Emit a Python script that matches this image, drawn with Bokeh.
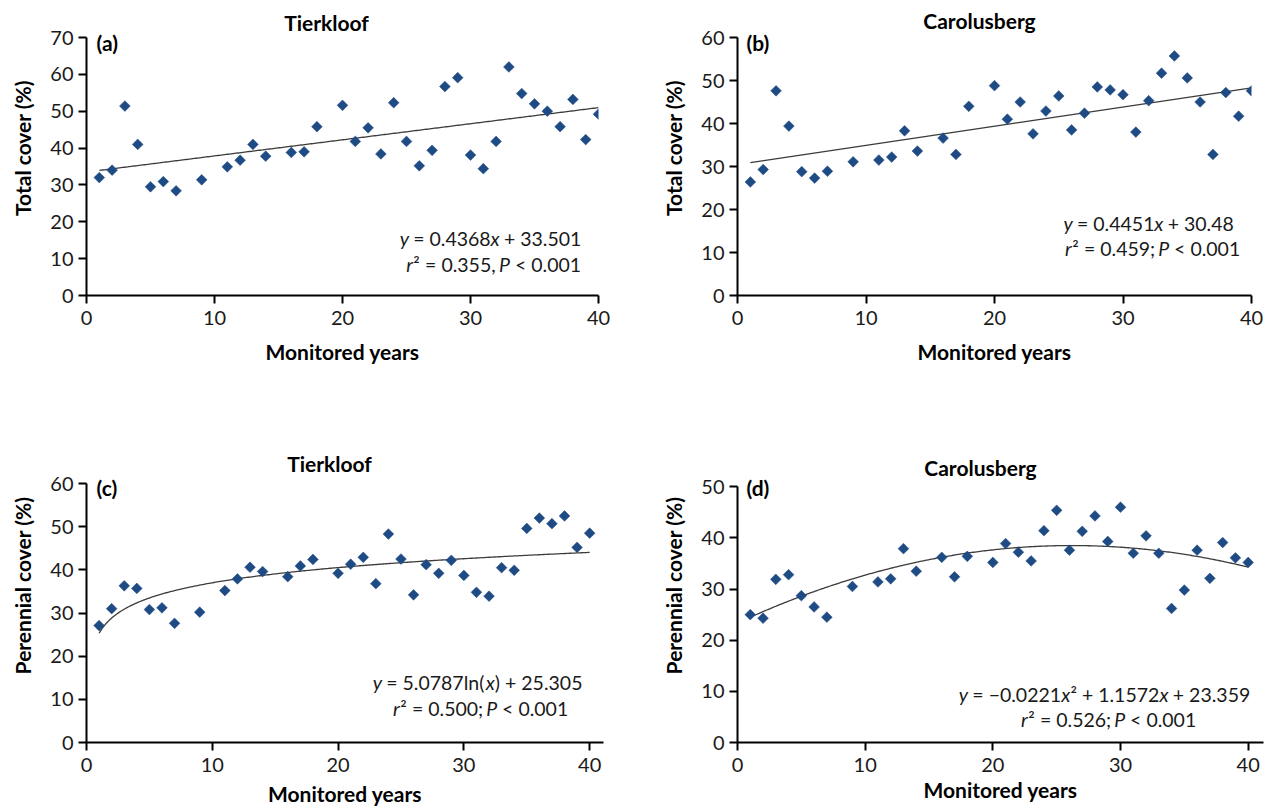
import numpy as np
from bokeh.plotting import figure
from bokeh.layouts import column, row
from bokeh.models import Label, FixedTicker, Range1d
from bokeh.embed import file_html
from bokeh.resources import INLINE

# ---------------- data ----------------
years = [1, 2, 3, 4, 5, 6, 7, 9, 11, 12, 13, 14, 16, 17, 18,
         20, 21, 22, 23, 24, 25, 26, 27, 28, 29, 30, 31, 32, 33, 34, 35, 36, 37, 38, 39, 40]

tierkloof_total = [32.0, 34.0, 51.4, 41.0, 29.5, 30.9, 28.4, 31.4, 34.9, 36.7, 41.0, 37.8,
                   38.8, 39.0, 45.8, 51.6, 41.8, 45.5, 38.4, 52.3, 41.8, 35.2, 39.4, 56.7,
                   59.1, 38.1, 34.4, 41.8, 62.0, 54.8, 52.0, 50.0, 45.8, 53.2, 42.3, 49.2]
carolusberg_total = [26.4, 29.3, 47.6, 39.4, 28.8, 27.3, 28.9, 31.1, 31.5, 32.2, 38.3, 33.6,
                     36.6, 32.8, 44.0, 48.8, 41.0, 45.0, 37.6, 42.9, 46.4, 38.5, 42.4, 48.5,
                     47.8, 46.7, 38.0, 45.3, 51.7, 55.7, 50.6, 45.0, 32.8, 47.2, 41.7, 47.6]
tierkloof_perennial = [27.1, 31.0, 36.3, 35.7, 30.8, 31.2, 27.6, 30.2, 35.2, 37.9, 40.6, 39.6,
                       38.4, 40.9, 42.4, 39.2, 41.3, 42.9, 36.8, 48.3, 42.5, 34.2, 41.2, 39.2,
                       42.2, 38.7, 34.8, 33.9, 40.5, 39.9, 49.6, 52.0, 50.7, 52.5, 45.2, 48.5]
carolusberg_perennial = [25.0, 24.3, 31.9, 32.8, 28.7, 26.5, 24.5, 30.5, 31.4, 32.0, 37.9, 33.5,
                         36.2, 32.4, 36.4, 35.2, 38.9, 37.2, 35.5, 41.4, 45.4, 37.6, 41.3, 44.3,
                         39.3, 46.0, 37.0, 40.4, 37.0, 26.2, 29.8, 37.6, 32.1, 39.1, 36.1, 35.2]

# fitted trend equations as printed on the chart
tk_total_fit = [0.4368, 33.501]            # linear
cb_total_fit = [0.4451, 30.48]             # linear
tk_per_fit = [5.0787, 25.305]              # logarithmic
cb_per_fit = [-0.0221, 1.1572, 23.359]     # quadratic

x_ticks = [0, 10, 20, 30, 40]
total_ticks_a = [0, 10, 20, 30, 40, 50, 60, 70]
total_ticks_b = [0, 10, 20, 30, 40, 50, 60]
per_ticks_c = [0, 10, 20, 30, 40, 50, 60]
per_ticks_d = [0, 10, 20, 30, 40, 50]

titles = ["Tierkloof", "Carolusberg", "Tierkloof", "Carolusberg"]
panel_tags = ["(a)", "(b)", "(c)", "(d)"]
y_labels = ["Total cover (%)", "Total cover (%)", "Perennial cover (%)", "Perennial cover (%)"]
x_label = "Monitored years"

eq_lines = [
    [[("y", "italic"), (" = 0.4368", "normal"), ("x", "italic"), (" + 33.501", "normal")],
     [("r", "italic"), ("\u00b2", "normal"), (" = 0.355,", "normal"), (" P", "italic"), (" < 0.001", "normal")]],
    [[("y", "italic"), (" = 0.4451", "normal"), ("x", "italic"), (" + 30.48", "normal")],
     [("r", "italic"), ("\u00b2", "normal"), (" = 0.459;", "normal"), (" P", "italic"), (" < 0.001", "normal")]],
    [[("y", "italic"), (" = 5.0787ln(", "normal"), ("x", "italic"), (") + 25.305", "normal")],
     [("r", "italic"), ("\u00b2", "normal"), (" = 0.500;", "normal"), (" P", "italic"), (" < 0.001", "normal")]],
    [[("y", "italic"), (" = \u22120.0221", "normal"), ("x", "italic"), ("\u00b2 + 1.1572", "normal"),
      ("x", "italic"), (" + 23.359", "normal")],
     [("r", "italic"), ("\u00b2", "normal"), (" = 0.526;", "normal"), (" P", "italic"), (" < 0.001", "normal")]],
]

# ---------------- styling / layout ----------------
FONT = "Lato"
MARK = "#1f4b85"
LINE = "#3c3c3c"
TICK_PX = 20
LAB_PX = 21
EQ_PX = 19.5

# per panel: figure origin on page, size, side borders, x range,
# top tick value with its page y, and page y of value 0
geoms = [
    dict(ox=0, oy=0, W=640, H=428, left=86, right=42, xr=(0, 40), T=70, yT=37, y0=295,
         xlab_standoff=11),
    dict(ox=640, oy=0, W=632, H=428, left=97, right=21, xr=(0, 40), T=60, yT=37, y0=295,
         xlab_standoff=11),
    dict(ox=0, oy=428, W=640, H=380, left=86, right=37, xr=(0, 41.1), T=60, yT=483, y0=742,
         xlab_standoff=6),
    dict(ox=640, oy=428, W=632, H=380, left=97, right=9, xr=(0, 41.2), T=50, yT=487, y0=746,
         xlab_standoff=2),
]
for g in geoms:
    g["bottom"] = g["oy"] + g["H"] - g["y0"]
    ppu = (g["y0"] - g["yT"]) / g["T"]
    g["yr"] = (0, g["T"] + (g["yT"] - g["oy"]) / ppu)

# annotation anchor positions (page pixels)
title_pos = [(326, 22), (979, 20), (329, 463), (980, 467)]
tag_pos = [(96, 42), (746, 42), (96, 487), (746, 488)]
eq_pos = [[(490, 238), (493, 264)], [(1148, 223), (1152, 248)],
          [(477, 682), (480, 708)], [(1104, 697), (1108, 723)]]

WIDTH_EM = {' ': 0.21, '.': 0.2, ',': 0.2, ';': 0.21, '=': 0.58, '+': 0.58, '<': 0.58,
            '\u2212': 0.58, '(': 0.3, ')': 0.3, 'l': 0.25, 'n': 0.56, 'x': 0.46, 'y': 0.47,
            'r': 0.36, 'P': 0.59, '\u00b2': 0.38}
WIDTH_K = 1.02


def text_w(s, px):
    return sum(WIDTH_EM.get(c, 0.58) for c in s) * px * WIDTH_K


def to_data(g, sx, sy):
    fw = g["W"] - g["left"] - g["right"]
    fh = g["H"] - g["bottom"]
    fx = sx - g["ox"] - g["left"]
    fy = fh - (sy - g["oy"])
    x = g["xr"][0] + fx / fw * (g["xr"][1] - g["xr"][0])
    y = g["yr"][0] + fy / fh * (g["yr"][1] - g["yr"][0])
    return x, y


def add_text(p, g, sx, sy, text, px, style="normal", align="left", color="#000000"):
    x, y = to_data(g, sx, sy)
    p.add_layout(Label(x=x, y=y, text=text, text_font=FONT, text_font_size=f"{px}px",
                       text_font_style=style, text_align=align, text_baseline="middle",
                       text_color=color))


def make_panel(i, yvals, yticks, curve_fn):
    g = geoms[i]
    p = figure(width=g["W"], height=g["H"], x_range=Range1d(*g["xr"]), y_range=Range1d(*g["yr"]),
               output_backend="svg", toolbar_location=None,
               min_border_left=g["left"], min_border_right=g["right"],
               min_border_top=0, min_border_bottom=g["bottom"])
    p.outline_line_color = None
    p.xgrid.visible = False
    p.ygrid.visible = False
    p.background_fill_color = "white"
    p.border_fill_color = "white"
    p.xaxis.ticker = FixedTicker(ticks=x_ticks)
    p.yaxis.ticker = FixedTicker(ticks=yticks)
    p.yaxis.bounds = (0, g["T"])
    for ax in (p.xaxis[0], p.yaxis[0]):
        ax.axis_line_width = 2
        ax.axis_line_color = "#000000"
        ax.major_tick_line_width = 2
        ax.major_tick_line_color = "#000000"
        ax.major_tick_out = 8
        ax.major_tick_in = 0
        ax.minor_tick_line_color = None
        ax.major_label_text_font = FONT
        ax.major_label_text_font_size = f"{TICK_PX}px"
        ax.major_label_text_color = "#1a1a1a"
        ax.axis_label_text_font = FONT
        ax.axis_label_text_font_size = f"{LAB_PX}px"
        ax.axis_label_text_font_style = "bold"
        ax.axis_label_text_color = "#000000"
    p.xaxis.major_label_standoff = 7
    p.yaxis.major_label_standoff = 5
    p.yaxis.axis_label = y_labels[i]
    p.yaxis.axis_label_standoff = 12
    p.xaxis.axis_label = x_label
    p.xaxis.axis_label_standoff = g["xlab_standoff"]

    xs = np.linspace(1, 40, 300)
    p.line(xs, curve_fn(xs), line_color=LINE, line_width=1.3)
    p.scatter(years, yvals, marker="square", size=7.6, angle=np.pi / 4,
              fill_color=MARK, line_color=MARK, line_width=0.5)

    add_text(p, g, *title_pos[i], titles[i], LAB_PX, "bold", "center")
    add_text(p, g, *tag_pos[i], panel_tags[i], LAB_PX, "bold", "left")
    for (cx, cy), pieces in zip(eq_pos[i], eq_lines[i]):
        total = sum(text_w(t, EQ_PX) for t, _ in pieces)
        sx = cx - total / 2
        for t, st in pieces:
            core = t.lstrip(" ")
            sx += text_w(t[:len(t) - len(core)], EQ_PX)
            add_text(p, g, sx, cy, core, EQ_PX, st, "left", "#1a1a1a")
            sx += text_w(core, EQ_PX)
    return p


pa = make_panel(0, tierkloof_total, total_ticks_a,
                lambda x: tk_total_fit[0] * x + tk_total_fit[1])
pb = make_panel(1, carolusberg_total, total_ticks_b,
                lambda x: cb_total_fit[0] * x + cb_total_fit[1])
pc = make_panel(2, tierkloof_perennial, per_ticks_c,
                lambda x: tk_per_fit[0] * np.log(x) + tk_per_fit[1])
pd = make_panel(3, carolusberg_perennial, per_ticks_d,
                lambda x: cb_per_fit[0] * x ** 2 + cb_per_fit[1] * x + cb_per_fit[2])

layout = column(row(pa, pb), row(pc, pd))

with open("out.html", "w") as f:
    f.write(file_html(layout, INLINE))
